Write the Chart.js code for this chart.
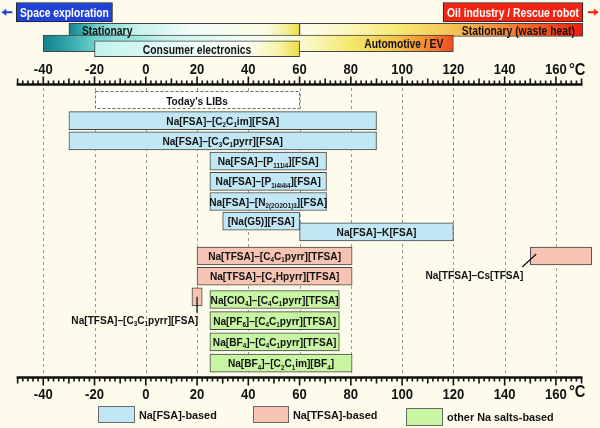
<!DOCTYPE html>
<html>
<head>
<meta charset="utf-8">
<title>Operating temperature ranges of Na secondary batteries</title>
<script src="https://cdn.jsdelivr.net/npm/chart.js@4.4.1/dist/chart.umd.min.js"></script>
<style>
html,body{margin:0;padding:0;background:#fcfbec;}
#box{width:600px;height:428px;}
canvas{display:block;}
</style>
</head>
<body>
<div id="box"><canvas id="chart" width="600" height="428"></canvas></div>
<script>
// ================= DATA =================
const tickValues = [-40, -20, 0, 20, 40, 60, 80, 100, 120, 140, 160];
const tickLabels = ['-40', '-20', '0', '20', '40', '60', '80', '100', '120', '140', '160'];
const axisUnit = '°C';
const axisMin = -50;
const axisMax = 170;

// application ranges (top panel)
const appLabels = ['Space exploration', 'Oil industry / Rescue robot', 'Stationary', 'Stationary (waste heat)', 'Automotive / EV', 'Consumer electronics'];
const appLow  = [-50.5, 116, -30, 60, -40, -20];
const appHigh = [-13, 170.5, 60, 170.5, 120, 60];
const appRow  = [-4.37, -4.37, -3.5, -3.5, -2.83, -2.56];

// today's LIBs
const libLabels = ["Today's LIBs"];
const libLow = [-20];
const libHigh = [60];
const libRow = [0];

// Na[FSA]-based
const fsaLabels = ['Na[FSA]–[C_{2}C_{1}im][FSA]', 'Na[FSA]–[C_{3}C_{1}pyrr][FSA]', 'Na[FSA]–[P_{111i4}][FSA]', 'Na[FSA]–[P_{1i4i4i4}][FSA]', 'Na[FSA]–[N_{2(2O2O1)3}][FSA]', '[Na(G5)][FSA]', 'Na[FSA]–K[FSA]'];
const fsaLow  = [-30, -30, 25, 25, 25, 30, 60];
const fsaHigh = [90, 90, 70.5, 70.5, 70.5, 60, 120];
const fsaRow  = [1, 2, 3, 4, 5, 5.97, 6.5];

// Na[TFSA]-based
const tfsaLabels = ['Na[TFSA]–[C_{4}C_{1}pyrr][TFSA]', 'Na[TFSA]–[C_{4}Hpyrr][TFSA]', 'Na[TFSA]–Cs[TFSA]', 'Na[TFSA]–[C_{3}C_{1}pyrr][FSA]'];
const tfsaLow  = [20, 20, 150, 18];
const tfsaHigh = [80.5, 80.5, 174, 22];
const tfsaRow  = [7.7, 8.7, 7.7, 9.72];

// other Na salts-based
const otherLabels = ['Na[ClO_{4}]–[C_{4}C_{1}pyrr][TFSA]', 'Na[PF_{6}]–[C_{4}C_{1}pyrr][TFSA]', 'Na[BF_{4}]–[C_{4}C_{1}pyrr][TFSA]', 'Na[BF_{4}]–[C_{2}C_{1}im][BF_{4}]'];
const otherLow  = [25, 25, 25, 25];
const otherHigh = [75.5, 75.5, 75.5, 80.5];
const otherRow  = [9.85, 10.9, 11.95, 13];

const legendLabels = ['Na[FSA]-based', 'Na[TFSA]-based', 'other Na salts-based'];

// ================= STYLE =================
const FONT = '"Liberation Sans", Arial, Helvetica, sans-serif';
const BG = '#fcfbec';
const COL_FSA = '#c1e7f5';
const COL_TFSA = '#f7c4b4';
const COL_OTHER = '#c8f5a2';
const EDGE = '#454545';

const appStyle = [
  { fill: '#2142d6', text: '#ffffff', align: 'center' },
  { fill: '#f22414', text: '#ffffff', align: 'center' },
  { stops: [[0, '#16808c'], [0.05, '#2ea5aa'], [0.13, '#79d6d0'], [0.3, '#c8f3ec'], [0.55, '#f3fcf8'], [0.86, '#fafbe2'], [0.95, '#f5ec8e'], [1, '#efdc3c']], text: '#111', align: 'left', pad: 13 },
  { stops: [[0, '#fdfdf2'], [0.15, '#fbf8c6'], [0.35, '#f7ea74'], [0.55, '#f7c052'], [0.72, '#f6893a'], [0.88, '#f24c20'], [1, '#ec1e10']], text: '#111', align: 'right', pad: 8 },
  { stops: [[0, '#15808c'], [0.06, '#30a6ab'], [0.13, '#6ed3cc'], [0.3, '#c6f3ec'], [0.5, '#f5fcf6'], [0.63, '#fafad0'], [0.75, '#f4e86c'], [0.86, '#f5c24c'], [0.94, '#f58634'], [1, '#ef4a1e']], text: '#111', align: 'right', pad: 10 },
  { stops: [[0, '#bff3ea'], [0.4, '#e8fcf7'], [0.75, '#fbfdf0'], [0.9, '#f8f3a8'], [1, '#efdc45']], text: '#111', align: 'center' }
];

function appFill(ctx) {
  const i = ctx.dataset.appIdx[ctx.dataIndex];
  const st = appStyle[i];
  if (st.fill) return st.fill;
  const xs = ctx.chart.scales && ctx.chart.scales.x;
  if (!xs) return '#ffffff';
  const x0 = xs.getPixelForValue(appLow[i]);
  const x1 = xs.getPixelForValue(appHigh[i]);
  if (!isFinite(x0) || !isFinite(x1) || x0 === x1) return '#ffffff';
  const g = ctx.chart.ctx.createLinearGradient(x0, 0, x1, 0);
  st.stops.forEach(s => g.addColorStop(s[0], s[1]));
  return g;
}

function mk(label, idx, lows, highs, rows, extra) {
  return Object.assign({
    label: label,
    data: idx.map(i => ({ x: [lows[i], highs[i]], y: rows[i] })),
    grouped: false,
    borderSkipped: false,
    borderWidth: 1,
    borderColor: EDGE
  }, extra);
}

const range = n => Array.from({ length: n }, (_, i) => i);

const datasets = [
  mk('Consumer electronics', [5], appLow, appHigh, appRow, { appIdx: [5], barThickness: 16, backgroundColor: appFill, kind: 'app' }),
  mk('Automotive / EV', [4], appLow, appHigh, appRow, { appIdx: [4], barThickness: 16.5, backgroundColor: appFill, kind: 'app' }),
  mk('Stationary', [2, 3], appLow, appHigh, appRow, { appIdx: [2, 3], barThickness: 13, backgroundColor: appFill, kind: 'app' }),
  mk('Extremes', [0, 1], appLow, appHigh, appRow, { appIdx: [0, 1], barThickness: 19.5, backgroundColor: appFill, borderColor: '#222', kind: 'app' }),
  mk("Today's LIBs", [0], libLow, libHigh, libRow, { barThickness: 18, backgroundColor: '#ffffff', borderWidth: 0, kind: 'lib', names: libLabels }),
  mk(legendLabels[0], range(fsaLabels.length), fsaLow, fsaHigh, fsaRow, { barThickness: 18, backgroundColor: COL_FSA, kind: 'main', names: fsaLabels }),
  mk(legendLabels[1], range(tfsaLabels.length), tfsaLow, tfsaHigh, tfsaRow, { barThickness: 18, backgroundColor: COL_TFSA, kind: 'main', names: tfsaLabels }),
  mk(legendLabels[2], range(otherLabels.length), otherLow, otherHigh, otherRow, { barThickness: 18, backgroundColor: COL_OTHER, kind: 'main', names: otherLabels })
];

// ================= TEXT HELPERS =================
function parts(s) {
  const out = []; const re = /_\{([^}]*)\}/g; let last = 0, m;
  while ((m = re.exec(s))) {
    if (m.index > last) out.push({ t: s.slice(last, m.index), sub: false });
    out.push({ t: m[1], sub: true });
    last = re.lastIndex;
  }
  if (last < s.length) out.push({ t: s.slice(last), sub: false });
  return out;
}
function drawRich(ctx, s, x, yc, size, align, sx, color) {
  const ps = parts(s);
  const subSize = size * 0.62;
  let w = 0;
  ps.forEach(p => { ctx.font = 'bold ' + (p.sub ? subSize : size) + 'px ' + FONT; p.w = ctx.measureText(p.t).width; w += p.w; });
  ctx.save();
  ctx.translate(x, yc);
  ctx.scale(sx, 1);
  let cx = align === 'center' ? -w / 2 : align === 'right' ? -w : 0;
  ctx.fillStyle = color; ctx.textAlign = 'left'; ctx.textBaseline = 'alphabetic';
  const base = size * 0.36;
  ps.forEach(p => {
    ctx.font = 'bold ' + (p.sub ? subSize : size) + 'px ' + FONT;
    ctx.fillText(p.t, cx, p.sub ? base + size * 0.2 : base);
    cx += p.w;
  });
  ctx.restore();
  return w * sx;
}
function geom(el) {
  const p = el.getProps(['x', 'y', 'base', 'height'], true);
  return { left: Math.min(p.x, p.base), right: Math.max(p.x, p.base), top: p.y - p.height / 2, bottom: p.y + p.height / 2, cx: (p.x + p.base) / 2, cy: p.y };
}

// ================= PLUGIN =================
const decor = {
  id: 'decor',
  beforeDraw(chart) {
    const c = chart.ctx;
    c.save(); c.fillStyle = BG; c.fillRect(0, 0, chart.width, chart.height); c.restore();
  },
  beforeDatasetsDraw(chart) {
    const c = chart.ctx, xs = chart.scales.x;
    c.save();
    c.strokeStyle = '#9a9a9a'; c.lineWidth = 1; c.setLineDash([3, 3]);
    tickValues.forEach(v => {
      const px = Math.round(xs.getPixelForValue(v)) + 0.5;
      c.beginPath(); c.moveTo(px, 88); c.lineTo(px, 374); c.stroke();
    });
    c.restore();
  },
  afterDatasetsDraw(chart) {
    const c = chart.ctx, xs = chart.scales.x;
    c.save();
    chart.data.datasets.forEach((ds, di) => {
      const meta = chart.getDatasetMeta(di);
      meta.data.forEach((el, j) => {
        const g = geom(el);
        if (ds.kind === 'app') {
          const i = ds.appIdx[j]; const st = appStyle[i];
          let x = g.cx, al = 'center';
          if (st.align === 'left') { x = g.left + st.pad; al = 'left'; }
          if (st.align === 'right') { x = g.right - st.pad; al = 'right'; }
          drawRich(c, appLabels[i], x, g.cy + 0.5, 12, al, 0.86, st.text);
          if (i === 0) {
            c.strokeStyle = st.fill; c.fillStyle = st.fill; c.lineWidth = 2;
            c.beginPath(); c.moveTo(g.left - 4, g.cy); c.lineTo(g.left - 11, g.cy); c.stroke();
            c.beginPath(); c.moveTo(g.left - 15, g.cy); c.lineTo(g.left - 10, g.cy - 3.5); c.lineTo(g.left - 10, g.cy + 3.5); c.closePath(); c.fill();
          }
          if (i === 1) {
            c.strokeStyle = st.fill; c.fillStyle = st.fill; c.lineWidth = 2;
            c.beginPath(); c.moveTo(g.right + 5, g.cy); c.lineTo(g.right + 12, g.cy); c.stroke();
            c.beginPath(); c.moveTo(g.right + 16, g.cy); c.lineTo(g.right + 11, g.cy - 3.5); c.lineTo(g.right + 11, g.cy + 3.5); c.closePath(); c.fill();
          }
        } else if (ds.kind === 'lib') {
          c.save();
          c.strokeStyle = '#6a6a6a'; c.lineWidth = 1; c.setLineDash([3, 2]);
          c.strokeRect(Math.round(g.left) + 0.5, Math.round(g.top) + 0.5, Math.round(g.right - g.left) - 1, Math.round(g.bottom - g.top) - 1);
          c.restore();
          drawRich(c, ds.names[j], g.cx, g.cy, 11.5, 'center', 0.88, '#111');
        } else {
          const name = ds.names[j];
          if (name === 'Na[TFSA]–Cs[TFSA]') {
            c.strokeStyle = '#111'; c.lineWidth = 1.3;
            c.beginPath(); c.moveTo(g.left - 8, g.cy + 11); c.lineTo(g.left + 6, g.cy - 2); c.stroke();
            drawRich(c, name, g.left - 7, g.cy + 19, 11.5, 'right', 0.88, '#111');
          } else if (name === 'Na[TFSA]–[C_{3}C_{1}pyrr][FSA]') {
            c.strokeStyle = '#111'; c.lineWidth = 1.3;
            c.beginPath(); c.moveTo(g.cx, g.cy); c.lineTo(g.cx, g.cy + 16); c.stroke();
            drawRich(c, name, g.cx + 1, g.cy + 23, 11.5, 'right', 0.88, '#111');
          } else {
            drawRich(c, name, g.cx, g.cy, 11.5, 'center', 0.88, '#111');
          }
        }
      });
    });

    function ruler(yLine, dir, labelY, unitBase) {
      const x0 = xs.getPixelForValue(axisMin), x1 = xs.getPixelForValue(axisMax);
      c.fillStyle = '#111';
      c.fillRect(x0 - 1, yLine - 1.25, x1 - x0 + 2, 2.5);
      c.strokeStyle = '#111'; c.lineWidth = 1.6;
      for (let t = axisMin; t <= axisMax; t += 2) {
        const len = (t % 20 === 0) ? 7 : (t % 10 === 0) ? 5 : 3;
        const px = xs.getPixelForValue(t);
        c.beginPath(); c.moveTo(px, yLine); c.lineTo(px, yLine + dir * (len + 1)); c.stroke();
      }
      tickValues.forEach((v, k) => {
        drawRich(c, tickLabels[k], xs.getPixelForValue(v), labelY, 14.5, 'center', 0.9, '#111');
      });
      c.save();
      c.font = 'bold 16px ' + FONT; c.fillStyle = '#111'; c.textAlign = 'left'; c.textBaseline = 'alphabetic';
      c.translate(xs.getPixelForValue(tickValues[tickValues.length - 1]) + 13, unitBase);
      c.scale(0.92, 1);
      c.fillText(axisUnit, 0, 0);
      c.restore();
    }
    ruler(84.5, -1, 68.5, 74.5);
    ruler(377.5, 1, 394, 397);

    const boxes = [[98, 406, 37, 17], [253, 406, 36, 17], [406, 408, 37, 18]];
    [5, 6, 7].forEach((di, k) => {
      const ds = chart.data.datasets[di];
      const b = boxes[k];
      c.fillStyle = ds.backgroundColor; c.fillRect(b[0], b[1], b[2], b[3]);
      c.strokeStyle = '#6a6a6a'; c.lineWidth = 1; c.strokeRect(b[0] + 0.5, b[1] + 0.5, b[2] - 1, b[3] - 1);
      drawRich(c, ds.label, b[0] + b[2] + 4, b[1] + b[3] / 2, 11.2, 'left', 0.97, '#111');
    });
    c.restore();
  }
};

const chart = new Chart(document.getElementById('chart'), {
  type: 'bar',
  data: { datasets: datasets },
  options: {
    responsive: false,
    animation: false,
    events: [],
    indexAxis: 'y',
    layout: { padding: 0 },
    plugins: { legend: { display: false }, tooltip: { enabled: false }, title: { display: false } },
    scales: {
      x: { type: 'linear', min: -56.88, max: 177.2, display: false, offset: false, grace: 0 },
      y: { type: 'linear', min: -4.975, max: 16.213, reverse: true, display: false, offset: false, grace: 0 }
    }
  },
  plugins: [decor]
});
</script>
</body>
</html>
